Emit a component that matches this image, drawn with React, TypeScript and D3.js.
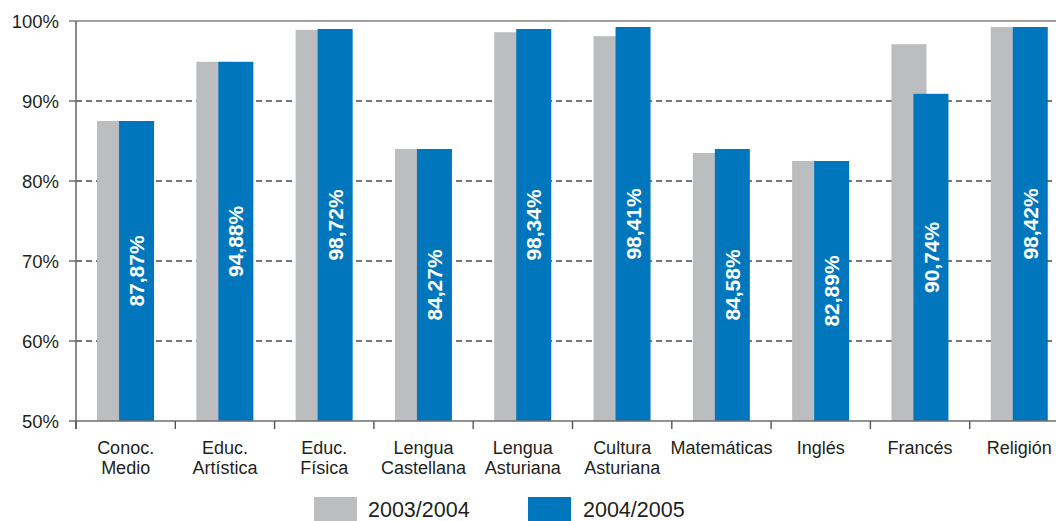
import React from "react";
import * as d3 from "d3";

const categories: string[][] = [
  ["Conoc.", "Medio"],
  ["Educ.", "Artística"],
  ["Educ.", "Física"],
  ["Lengua", "Castellana"],
  ["Lengua", "Asturiana"],
  ["Cultura", "Asturiana"],
  ["Matemáticas"],
  ["Inglés"],
  ["Francés"],
  ["Religión"],
];
const series2003 = [87.5, 94.9, 98.9, 84.0, 98.6, 98.1, 83.5, 82.5, 97.1, 99.25];
const series2004 = [87.5, 94.9, 99.0, 84.0, 99.0, 99.25, 84.0, 82.5, 90.9, 99.25];
const valueLabels = ["87,87%", "94,88%", "98,72%", "84,27%", "98,34%", "98,41%", "84,58%", "82,89%", "90,74%", "98,42%"];
const yTicks = [50, 60, 70, 80, 90, 100];
const legendNames = ["2003/2004", "2004/2005"];

const W = 1056;
const H = 521;
const GRAY = "#bcbdbf";
const BLUE = "#0077bd";
const TEXT = "#231f20";
const FONT = "'Liberation Sans', Arial, sans-serif";

export default function App() {
  const left = 76;
  const top = 21;
  const bottom = 421;
  const keys = categories.map((c) => c.join(" "));
  const x = d3.scaleBand<string>().domain(keys).range([left, left + 993]).paddingInner(0).paddingOuter(0);
  const y = d3.scaleLinear().domain([50, 100]).range([bottom, top]);
  const bw = x.bandwidth();
  const barW = bw * 0.3525;
  const grayOff = bw * 0.212;
  const blueOff = grayOff + bw * 0.2215;

  return (
    <div style={{ position: "absolute", left: 0, top: 0 }}>
      <svg width={W} height={H} style={{ display: "block", fontFamily: FONT }}>
        <rect width={W} height={H} fill="#fff" />
        {/* gridlines */}
        {yTicks.filter((t) => t > 50 && t < 100).map((t) => (
          <g key={t}>
            <line x1={left - 7} x2={left} y1={y(t)} y2={y(t)} stroke="#555" strokeWidth={1.3} />
            <line x1={left} x2={W} y1={y(t)} y2={y(t)} stroke="#4a4a4a" strokeWidth={1.3} strokeDasharray="6,4" />
          </g>
        ))}
        <line x1={left - 7} x2={W} y1={y(100)} y2={y(100)} stroke="#808080" strokeWidth={1.6} />
        {/* bars */}
        {keys.map((k, i) => (
          <rect key={"g" + k} x={(x(k) as number) + grayOff} y={y(series2003[i])} width={barW} height={y(50) - y(series2003[i])} fill={GRAY} />
        ))}
        {keys.map((k, i) => (
          <rect key={"b" + k} x={(x(k) as number) + blueOff} y={y(series2004[i])} width={barW} height={y(50) - y(series2004[i])} fill={BLUE} />
        ))}
        {/* value labels */}
        {keys.map((k, i) => {
          const cx = (x(k) as number) + blueOff + barW / 2;
          const cy = (y(series2004[i]) + y(50)) / 2;
          return (
            <text key={"v" + k} transform={`translate(${cx},${cy}) rotate(-90)`} textAnchor="middle" dy="0.36em" fill="#fff" fontWeight="bold" fontSize={21}>
              {valueLabels[i]}
            </text>
          );
        })}
        {/* axes */}
        <line x1={left} x2={left} y1={top} y2={bottom + 8} stroke="#6d6e71" strokeWidth={1.6} />
        <line x1={left - 7} x2={W} y1={bottom} y2={bottom} stroke="#6d6e71" strokeWidth={1.6} />
        {keys.map((k) => (
          <line key={"t" + k} x1={x(k) as number} x2={x(k) as number} y1={bottom} y2={bottom + 8} stroke="#555" strokeWidth={1.4} />
        ))}
        {yTicks.map((t) => (
          <text key={"yl" + t} x={59} y={y(t)} dy="0.36em" textAnchor="end" fontSize={18.5} fill={TEXT}>
            {t}%
          </text>
        ))}
        {categories.map((lines, i) => {
          const cx = (x(keys[i]) as number) + bw / 2;
          return (
            <text key={"c" + i} textAnchor="middle" fontSize={18} fill={TEXT}>
              {lines.map((l, j) => (
                <tspan key={j} x={cx} y={454 + j * 20}>
                  {l}
                </tspan>
              ))}
            </text>
          );
        })}
        {/* legend */}
        {legendNames.map((n, i) => (
          <g key={n}>
            <rect x={314 + i * 214} y={497} width={43} height={24} fill={i === 0 ? GRAY : BLUE} />
            <text x={368 + i * 215} y={517} fontSize={21.5} fill={TEXT}>
              {n}
            </text>
          </g>
        ))}
      </svg>
    </div>
  );
}
